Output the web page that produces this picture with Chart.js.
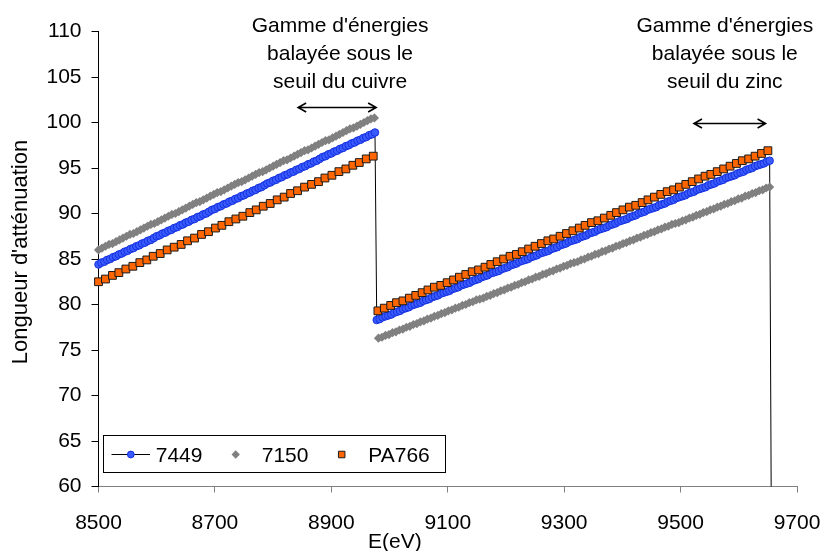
<!DOCTYPE html>
<html><head><meta charset="utf-8">
<script src="https://cdn.jsdelivr.net/npm/chart.js@4.4.0/dist/chart.umd.min.js"></script>
<style>html,body{margin:0;padding:0;background:#fff;}#wrap{width:824px;height:551px;}</style>
</head><body><div id="wrap"><canvas id="c" width="824" height="551"></canvas></div>
<script>
// ---------- data ----------
const xTicks = [8500, 8700, 8900, 9100, 9300, 9500, 9700];
const yTicks = [60, 65, 70, 75, 80, 85, 90, 95, 100, 105, 110];
const seriesNames = ["7449", "7150", "PA766"];

const energies7449 = [
8500,8505,8510,8515,8520,8525,8530,8535,8540,8545,
8550,8555,8560,8565,8570,8575,8580,8585,8590,8595,
8600,8605,8610,8615,8620,8625,8630,8635,8640,8645,
8650,8655,8660,8665,8670,8675,8680,8685,8690,8695,
8700,8705,8710,8715,8720,8725,8730,8735,8740,8745,
8750,8755,8760,8765,8770,8775,8780,8785,8790,8795,
8800,8805,8810,8815,8820,8825,8830,8835,8840,8845,
8850,8855,8860,8865,8870,8875,8880,8885,8890,8895,
8900,8905,8910,8915,8920,8925,8930,8935,8940,8945,
8950,8955,8960,8965,8970,8975,
8978,8983,8988,8993,8998,9003,9008,9013,9018,9023,
9028,9033,9038,9043,9048,9053,9058,9063,9068,9073,
9078,9083,9088,9093,9098,9103,9108,9113,9118,9123,
9128,9133,9138,9143,9148,9153,9158,9163,9168,9173,
9178,9183,9188,9193,9198,9203,9208,9213,9218,9223,
9228,9233,9238,9243,9248,9253,9258,9263,9268,9273,
9278,9283,9288,9293,9298,9303,9308,9313,9318,9323,
9328,9333,9338,9343,9348,9353,9358,9363,9368,9373,
9378,9383,9388,9393,9398,9403,9408,9413,9418,9423,
9428,9433,9438,9443,9448,9453,9458,9463,9468,9473,
9478,9483,9488,9493,9498,9503,9508,9513,9518,9523,
9528,9533,9538,9543,9548,9553,9558,9563,9568,9573,
9578,9583,9588,9593,9598,9603,9608,9613,9618,9623,
9628,9633,9638,9643,9648,9653,
9660];
const att7449 = [
84.4,84.6,84.7,84.9,85.0,85.2,85.3,85.5,85.6,85.8,
85.9,86.1,86.2,86.4,86.5,86.7,86.8,87.0,87.1,87.3,
87.5,87.6,87.8,87.9,88.1,88.2,88.4,88.5,88.7,88.8,
89.0,89.1,89.3,89.4,89.6,89.7,89.9,90.0,90.2,90.4,
90.5,90.7,90.8,91.0,91.1,91.3,91.4,91.6,91.7,91.9,
92.0,92.2,92.3,92.5,92.6,92.8,92.9,93.1,93.3,93.4,
93.6,93.7,93.9,94.0,94.2,94.3,94.5,94.6,94.8,94.9,
95.1,95.2,95.4,95.5,95.7,95.8,96.0,96.2,96.3,96.5,
96.6,96.8,96.9,97.1,97.2,97.4,97.5,97.7,97.8,98.0,
98.1,98.3,98.4,98.6,98.7,98.9,
78.3,78.4,78.6,78.7,78.8,78.9,79.1,79.2,79.3,79.5,
79.6,79.7,79.9,80.0,80.1,80.2,80.4,80.5,80.6,80.8,
80.9,81.0,81.2,81.3,81.4,81.5,81.7,81.8,81.9,82.1,
82.2,82.3,82.4,82.6,82.7,82.8,83.0,83.1,83.2,83.4,
83.5,83.6,83.7,83.9,84.0,84.1,84.3,84.4,84.5,84.7,
84.8,84.9,85.0,85.2,85.3,85.4,85.6,85.7,85.8,85.9,
86.1,86.2,86.3,86.5,86.6,86.7,86.9,87.0,87.1,87.2,
87.4,87.5,87.6,87.8,87.9,88.0,88.2,88.3,88.4,88.5,
88.7,88.8,88.9,89.1,89.2,89.3,89.4,89.6,89.7,89.8,
90.0,90.1,90.2,90.4,90.5,90.6,90.7,90.9,91.0,91.1,
91.3,91.4,91.5,91.7,91.8,91.9,92.0,92.2,92.3,92.4,
92.6,92.7,92.8,92.9,93.1,93.2,93.3,93.5,93.6,93.7,
93.9,94.0,94.1,94.2,94.4,94.5,94.6,94.8,94.9,95.0,
95.2,95.3,95.4,95.5,95.7,95.8,
0];

const energies7150 = [
8500,8506,8512,8518,8524,8530,8536,8542,8548,8554,
8560,8566,8572,8578,8584,8590,8596,8602,8608,8614,
8620,8626,8632,8638,8644,8650,8656,8662,8668,8674,
8680,8686,8692,8698,8704,8710,8716,8722,8728,8734,
8740,8746,8752,8758,8764,8770,8776,8782,8788,8794,
8800,8806,8812,8818,8824,8830,8836,8842,8848,8854,
8860,8866,8872,8878,8884,8890,8896,8902,8908,8914,
8920,8926,8932,8938,8944,8950,8956,8962,8968,8974,
8981,8987,8993,8999,9005,9011,9017,9023,9029,9035,
9041,9047,9053,9059,9065,9071,9077,9083,9089,9095,
9101,9107,9113,9119,9125,9131,9137,9143,9149,9155,
9161,9167,9173,9179,9185,9191,9197,9203,9209,9215,
9221,9227,9233,9239,9245,9251,9257,9263,9269,9275,
9281,9287,9293,9299,9305,9311,9317,9323,9329,9335,
9341,9347,9353,9359,9365,9371,9377,9383,9389,9395,
9401,9407,9413,9419,9425,9431,9437,9443,9449,9455,
9461,9467,9473,9479,9485,9491,9497,9503,9509,9515,
9521,9527,9533,9539,9545,9551,9557,9563,9569,9575,
9581,9587,9593,9599,9605,9611,9617,9623,9629,9635,
9641,9647,9653];
const att7150 = [
86.0,86.2,86.4,86.6,86.7,86.9,87.1,87.3,87.5,87.7,
87.8,88.0,88.2,88.4,88.6,88.8,88.9,89.1,89.3,89.5,
89.7,89.9,90.0,90.2,90.4,90.6,90.8,91.0,91.2,91.3,
91.5,91.7,91.9,92.1,92.3,92.4,92.6,92.8,93.0,93.2,
93.4,93.5,93.7,93.9,94.1,94.3,94.5,94.6,94.8,95.0,
95.2,95.4,95.6,95.8,95.9,96.1,96.3,96.5,96.7,96.9,
97.0,97.2,97.4,97.6,97.8,98.0,98.1,98.3,98.5,98.7,
98.9,99.1,99.3,99.4,99.6,99.8,100.0,100.2,100.4,100.5,
76.3,76.4,76.6,76.7,76.9,77.0,77.2,77.3,77.5,77.6,
77.8,77.9,78.1,78.2,78.4,78.5,78.7,78.8,79.0,79.1,
79.3,79.4,79.6,79.7,79.9,80.0,80.2,80.3,80.5,80.6,
80.7,80.9,81.0,81.2,81.3,81.5,81.6,81.8,81.9,82.1,
82.2,82.4,82.5,82.7,82.8,83.0,83.1,83.3,83.4,83.6,
83.7,83.9,84.0,84.2,84.3,84.5,84.6,84.7,84.9,85.0,
85.2,85.3,85.5,85.6,85.8,85.9,86.1,86.2,86.4,86.5,
86.7,86.8,87.0,87.1,87.3,87.4,87.6,87.7,87.9,88.0,
88.2,88.3,88.5,88.6,88.8,88.9,89.0,89.2,89.3,89.5,
89.6,89.8,89.9,90.1,90.2,90.4,90.5,90.7,90.8,91.0,
91.1,91.3,91.4,91.6,91.7,91.9,92.0,92.2,92.3,92.5,
92.6,92.8,92.9];

const energiesPA766 = [
8500,8512,8524,8535,8547,8559,8571,8583,8594,8606,
8618,8630,8642,8653,8665,8677,8689,8701,8712,8724,
8736,8748,8760,8771,8783,8795,8807,8819,8830,8842,
8854,8866,8878,8889,8901,8913,8925,8937,8948,8960,
8972,
8980,8991,9002,9012,9023,9034,9045,9056,9066,9077,
9088,9099,9110,9120,9131,9142,9153,9164,9174,9185,
9196,9207,9218,9228,9239,9250,9261,9272,9282,9293,
9304,9315,9326,9336,9347,9358,9369,9380,9390,9401,
9412,9423,9434,9444,9455,9466,9477,9488,9498,9509,
9520,9531,9542,9552,9563,9574,9585,9596,9606,9617,
9628,9639,9650];
const attPA766 = [
82.5,82.8,83.2,83.5,83.9,84.2,84.6,84.9,85.3,85.6,
86.0,86.3,86.6,87.0,87.3,87.7,88.0,88.4,88.7,89.1,
89.4,89.7,90.1,90.4,90.8,91.1,91.5,91.8,92.2,92.5,
92.9,93.2,93.5,93.9,94.2,94.6,94.9,95.3,95.6,96.0,
96.3,
79.3,79.6,79.9,80.2,80.4,80.7,81.0,81.3,81.6,81.9,
82.1,82.4,82.7,83.0,83.3,83.6,83.8,84.1,84.4,84.7,
85.0,85.3,85.5,85.8,86.1,86.4,86.7,87.0,87.2,87.5,
87.8,88.1,88.4,88.7,89.0,89.2,89.5,89.8,90.1,90.4,
90.7,90.9,91.2,91.5,91.8,92.1,92.4,92.6,92.9,93.2,
93.5,93.8,94.1,94.3,94.6,94.9,95.2,95.5,95.8,96.0,
96.3,96.6,96.9];

// annotation texts (energy ranges scanned below each edge)
const annotCuLines = ["Gamme d'énergies", "balayée sous le", "seuil du cuivre"];
const annotZnLines = ["Gamme d'énergies", "balayée sous le", "seuil du zinc"];
const annotCuRange = [8843, 8977];
const annotZnRange = [9523, 9646];

// ---------- drawing ----------
const FONT = '"Liberation Sans", Arial, sans-serif';
const toPts = (xs, ys) => xs.map((x, i) => ({x: x, y: ys[i]}));

const annotations = [
  {lines: annotCuLines, range: annotCuRange, center: 8915, level: 101.7},
  {lines: annotZnLines, range: annotZnRange, center: 9576, level: 99.9}
];

function drawMarker(ctx, style, x, y, r, fill, stroke, bw) {
  ctx.save();
  ctx.fillStyle = fill; ctx.strokeStyle = stroke; ctx.lineWidth = bw;
  ctx.beginPath();
  if (style === 'circle') ctx.arc(x, y, r, 0, Math.PI * 2);
  else if (style === 'rectRot') { ctx.moveTo(x - r, y); ctx.lineTo(x, y - r); ctx.lineTo(x + r, y); ctx.lineTo(x, y + r); ctx.closePath(); }
  else { const h = r * Math.SQRT1_2; ctx.rect(x - h, y - h, 2 * h, 2 * h); }
  ctx.fill(); if (bw > 0) ctx.stroke();
  ctx.restore();
}

const overlay = {
  id: 'overlay',
  afterDraw(chart) {
    const ctx = chart.ctx, xs = chart.scales.x, ys = chart.scales.y;
    ctx.save();
    ctx.fillStyle = '#000';
    ctx.font = '21px ' + FONT;
    ctx.textAlign = 'center';
    ctx.textBaseline = 'alphabetic';
    // annotations
    annotations.forEach(a => {
      const cx = xs.getPixelForValue(a.center);
      a.lines.forEach((t, i) => ctx.fillText(t, cx, 31.5 + i * 28.3));
      const x1 = xs.getPixelForValue(a.range[0]), x2 = xs.getPixelForValue(a.range[1]);
      const y = Math.round(ys.getPixelForValue(a.level)) + 0.5;
      ctx.strokeStyle = '#000'; ctx.lineWidth = 1.6;
      ctx.beginPath(); ctx.moveTo(x1, y); ctx.lineTo(x2, y);
      ctx.moveTo(x1 + 8, y - 4.5); ctx.lineTo(x1, y); ctx.lineTo(x1 + 8, y + 4.5);
      ctx.moveTo(x2 - 8, y - 4.5); ctx.lineTo(x2, y); ctx.lineTo(x2 - 8, y + 4.5);
      ctx.stroke();
    });
    // axis titles
    ctx.textAlign = 'left';
    ctx.fillText('E(eV)', 368, 548);
    ctx.save();
    ctx.translate(27, 252);
    ctx.rotate(-Math.PI / 2);
    ctx.textAlign = 'center';
    ctx.font = '22px ' + FONT;
    ctx.fillText("Longueur d'atténuation", 0, 0);
    ctx.restore();
    // legend
    ctx.fillStyle = '#fff';
    ctx.fillRect(103.5, 435.5, 342, 37);
    ctx.strokeStyle = '#000'; ctx.lineWidth = 1;
    ctx.strokeRect(103.5, 435.5, 342, 37);
    const ly = 454.5;
    const ds = chart.data.datasets;
    ctx.beginPath(); ctx.moveTo(111.5, ly); ctx.lineTo(150, ly); ctx.stroke();
    drawMarker(ctx, 'circle', 130.8, ly, 3.4, ds[0].pointBackgroundColor, ds[0].pointBorderColor, 1);
    drawMarker(ctx, 'rectRot', 235.7, ly, 4.2, ds[1].pointBackgroundColor, ds[1].pointBorderColor, 0);
    drawMarker(ctx, 'rect', 341.7, ly, 4.6, ds[2].pointBackgroundColor, ds[2].pointBorderColor, 1);
    ctx.fillStyle = '#000';
    ctx.font = '21px ' + FONT;
    ctx.textAlign = 'left';
    ctx.fillText(ds[0].label, 155.7, 461.7);
    ctx.fillText(ds[1].label, 261.7, 461.7);
    ctx.fillText(ds[2].label, 368.3, 461.7);
    ctx.restore();
  }
};

new Chart(document.getElementById('c'), {
  type: 'scatter',
  data: {
    datasets: [
      {
        label: seriesNames[0], data: toPts(energies7449, att7449),
        showLine: true, borderColor: '#000', borderWidth: 1, tension: 0,
        pointStyle: 'circle',
        pointRadius: c => (c.raw && c.raw.y < 60) ? 0 : 3.8,
        pointBackgroundColor: '#3a5cff', pointBorderColor: '#1530e0', pointBorderWidth: 1,
        clip: {left: 8, top: 8, right: 8, bottom: 0}, order: 3
      },
      {
        label: seriesNames[1], data: toPts(energies7150, att7150),
        showLine: false, pointStyle: 'rectRot', pointRadius: 4.6,
        pointBackgroundColor: '#808080', pointBorderColor: '#808080', pointBorderWidth: 0,
        clip: false, order: 2
      },
      {
        label: seriesNames[2], data: toPts(energiesPA766, attPA766),
        showLine: false, pointStyle: 'rect', pointRadius: 5.5,
        pointBackgroundColor: '#ff6600', pointBorderColor: '#1a1a1a', pointBorderWidth: 1,
        clip: false, order: 1
      }
    ]
  },
  options: {
    responsive: false, animation: false, devicePixelRatio: 1,
    layout: {padding: {top: 31.5, right: 27, bottom: 0, left: 0}},
    plugins: {legend: {display: false}, tooltip: {enabled: false}},
    events: [],
    scales: {
      x: {
        type: 'linear', position: 'bottom', min: 8500, max: 9700,
        afterBuildTicks: s => { s.ticks = xTicks.map(v => ({value: v})); },
        afterFit: s => { s.height = 64.5; s.paddingLeft = 0; s.paddingRight = 0; },
        ticks: {font: {family: FONT, size: 21}, color: '#000', padding: 18, maxRotation: 0, autoSkip: false,
                 callback: v => String(v)},
        grid: {drawOnChartArea: false, drawTicks: true, tickLength: 6, color: '#808080'},
        border: {display: true, color: '#808080', width: 1}
      },
      y: {
        type: 'linear', position: 'left', min: 60, max: 110,
        afterBuildTicks: s => { s.ticks = yTicks.map(v => ({value: v})); },
        afterFit: s => { s.width = 98.5; s.paddingTop = 0; s.paddingBottom = 0; },
        ticks: {font: {family: FONT, size: 21}, color: '#000', padding: 10, autoSkip: false,
                 callback: v => String(v)},
        grid: {drawOnChartArea: false, drawTicks: true, tickLength: 7, color: '#000'},
        border: {display: true, color: '#000', width: 1}
      }
    }
  },
  plugins: [overlay]
});
</script>
</body></html>
